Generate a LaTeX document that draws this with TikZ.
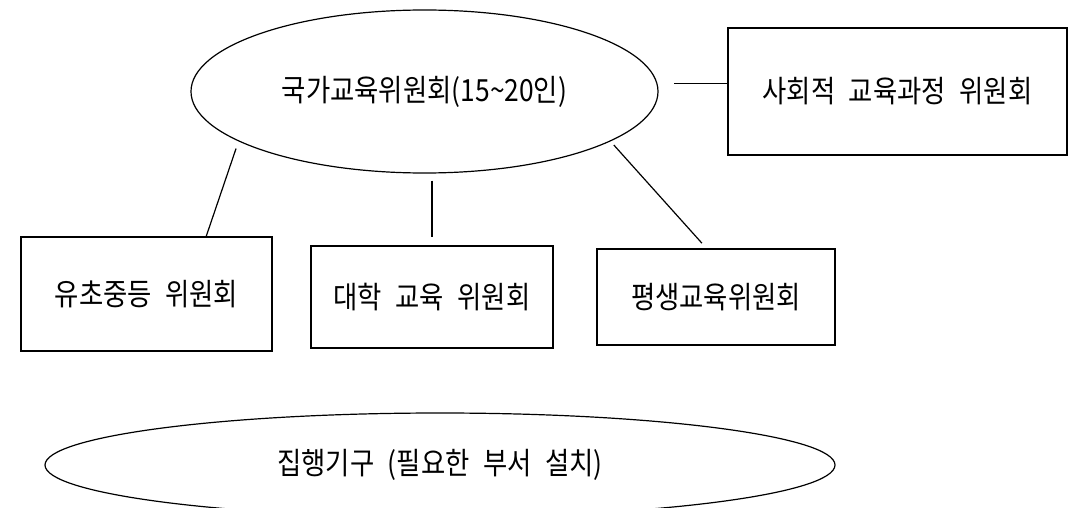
\documentclass[tikz,border=0pt]{standalone}
\usepackage{fontspec}
\newfontfamily\kr[FakeStretch=0.865,WordSpace=2.3]{Noto Sans CJK KR}
\usetikzlibrary{shapes.geometric}
\begin{document}
\begin{tikzpicture}[x=1pt,y=-1pt,
  every node/.style={font=\kr\fontsize{30.5}{32}\selectfont, inner sep=0pt, line width=1.3pt},
  combox/.style 2 args={draw, rectangle, minimum width=#1, minimum height=#2},
  oval/.style 2 args={draw, ellipse, minimum width=#1, minimum height=#2, line width=1.2pt},
  link/.style={draw, line width=1.2pt}
]
\useasboundingbox (0,0) rectangle (1078,508);
\fill[white] (0,0) rectangle (1078,508);

\node[oval={467pt}{163pt}] (top) at (424.5,91.5) {국가교육위원회(15\textasciitilde20인)};
\node[combox={339pt}{127pt}] (rb) at (897.5,91.5) {사회적 교육과정 위원회};
\node[combox={251pt}{114pt}] (b1) at (146.5,294) {유초중등 위원회};
\node[combox={242pt}{102pt}] (b2) at (432,297) {대학 교육 위원회};
\node[combox={238pt}{96pt}] (b3) at (716,297) {평생교육위원회};
\node[oval={790pt}{104pt}] (exec) at (440,465) {집행기구 (필요한 부서 설치)};

\draw[link, shorten <=7.6pt] (top.195) -- (b1.44.75);
\draw[link, shorten <=7pt, shorten >=8pt] (top.south -| b2.north) -- (b2.north);
\draw[link, shorten <=5pt, shorten >=7pt] (top.345) -- (b3.101.3);
\draw[link, shorten >=15pt] ([yshift=8pt]rb.west) -- ([yshift=8pt]top.east);
\end{tikzpicture}
\end{document}
